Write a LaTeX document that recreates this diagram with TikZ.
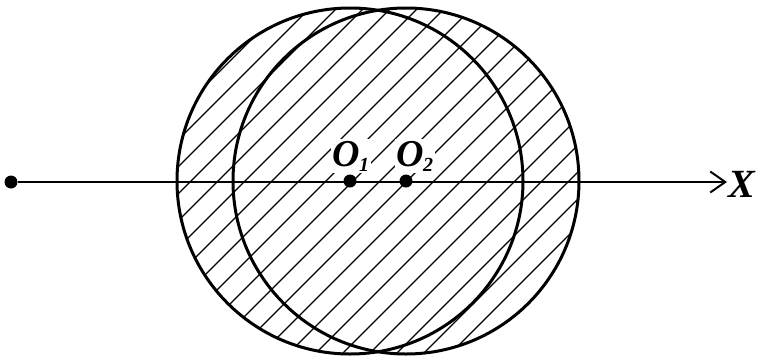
\documentclass[tikz,border=0pt]{standalone}
\usepackage{fontspec}
\setmainfont{Liberation Serif}
\usetikzlibrary{arrows.meta}

\tikzset{
  circulo/.style={line width=3pt},
  rayado/.style={line width=1.3pt},
  eje/.style={line width=2pt},
  punto/.style={circle,fill=black,inner sep=0pt,minimum size=13pt},
  etiqueta/.style={fill=white,inner sep=1.5pt,font=\bfseries\itshape\fontsize{38}{38}\selectfont}
}

\begin{document}
\begin{tikzpicture}[x=1pt,y=-1pt]
  \useasboundingbox (0,0) rectangle (764,360);

  \coordinate (O1) at (350,181);
  \coordinate (O2) at (406,181);

  % Rayado de la union de los dos circulos
  \begin{scope}
    \clip (O1) circle (173) (O2) circle (173);
    \foreach \i in {-420,-393,...,800} {
      \draw[rayado] (\i,360) -- (\i+360,0);
    }
  \end{scope}

  \draw[circulo] (O1) circle (173);
  \draw[circulo] (O2) circle (173);

  % Etiquetas de los centros
  \node[etiqueta,anchor=base west] (t1) at (331,166)
    {O\kern-1pt\raisebox{-5pt}{\fontsize{20}{20}\selectfont 1}};
  \node[etiqueta,anchor=base west] (t2) at (395,166)
    {O\kern-1pt\raisebox{-5pt}{\fontsize{20}{20}\selectfont 2}};

  % Eje X
  \node[punto] (ini) at (11,182) {};
  \coordinate (fin) at (727,182);
  \draw[eje,-{Straight Barb[length=15pt,width=21pt,line width=2pt]}] (ini) -- (fin);
  \node[anchor=base west,inner sep=0pt,font=\bfseries\itshape\fontsize{40}{40}\selectfont] (X) at (728,197) {X};

  \node[punto] (p1) at (O1) {};
  \node[punto] (p2) at (O2) {};
\end{tikzpicture}
\end{document}
